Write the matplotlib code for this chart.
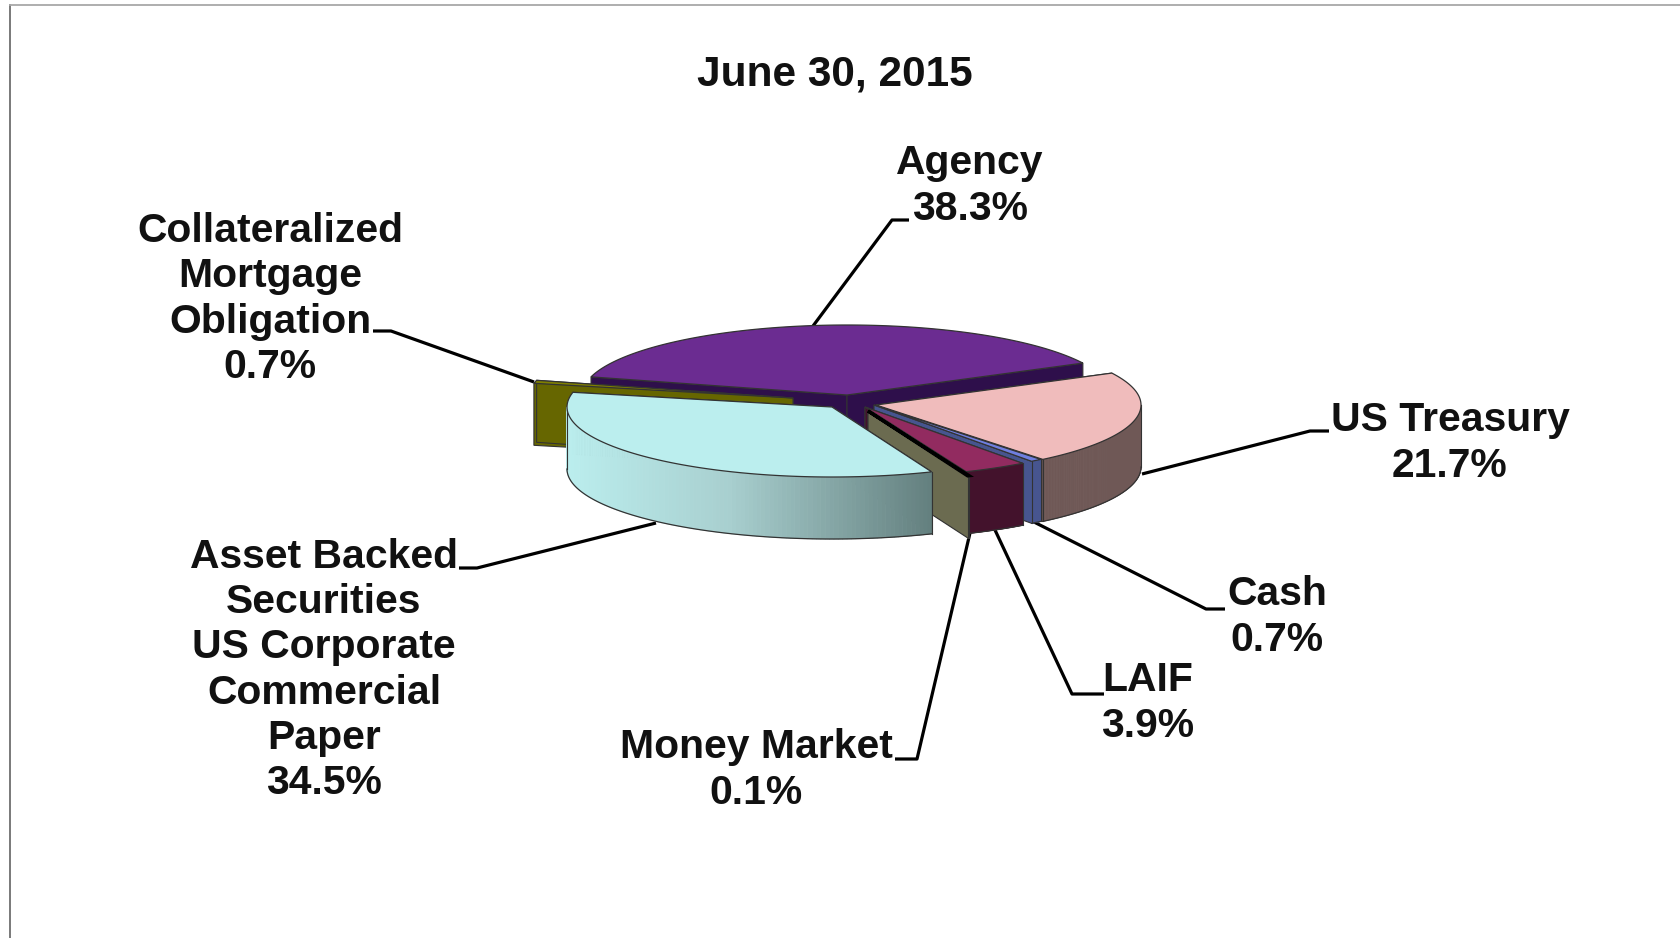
import numpy as np
import matplotlib
matplotlib.use("Agg")
import matplotlib.pyplot as plt
from matplotlib.patches import Polygon
from matplotlib.collections import PolyCollection
from matplotlib.colors import to_rgb

plt.rcParams['font.family'] = ['Liberation Sans', 'DejaVu Sans']

TITLE = "June 30, 2015"
CATEGORIES = ["Agency", "US Treasury", "Cash", "LAIF", "Money Market",
              "Asset Backed\nSecurities\nUS Corporate\nCommercial\nPaper",
              "Collateralized\nMortgage\nObligation"]
VALUES = [38.3, 21.7, 0.7, 3.9, 0.1, 34.5, 0.7]

# styling / layout
START = -75.0
RX, RY, DEPTH = 265.0, 70.0, 62.0
CENTRES = [(847, 395), (876, 405), (874, 405), (865, 407), (868, 411), (832, 407), (793, 398)]
TOP = ["#6B2C91", "#F0BCBC", "#6F7FE0", "#922B60", "#111111", "#BBEEEE", "#808000"]
WALL = ["#2E0F4B", "#6F5856", "#47558F", "#43122C", "#6B6B50", "#BBEEEE", "#666600"]
FACE = ["#2E0F4B", "#7A6260", "#47558F", "#43122C", "#6B6B50", "#6A8A8A", "#666600"]
PAINT_ORDER = [0, 1, 2, 3, 4, 6, 5]
EDGE = "#333333"
LABEL_POS = [(970, 186), (1450, 443), (1277, 617), (1148, 703), (756, 770), (324, 670), (270, 299)]
LEADERS = [[(813, 326), (892, 220), (909, 220)],
           [(1142, 474), (1310, 431), (1329, 431)],
           [(1034, 522), (1206, 609), (1225, 609)],
           [(995, 530), (1072, 694), (1104, 694)],
           [(970, 533), (917, 759), (895, 759)],
           [(656, 523), (477, 568), (459, 568)],
           [(534, 382), (391, 331), (373, 331)]]

fig = plt.figure(figsize=(16.81, 9.38), dpi=100, facecolor="white")
ax = fig.add_axes([0, 0, 1, 1])
ax.set_xlim(0, 1681)
ax.set_ylim(938, 0)
ax.axis("off")

# frame
ax.plot([10, 10], [5, 938], color="#6E6E6E", lw=1.3, zorder=1)
ax.plot([10, 1681], [5, 5], color="#A8A8A8", lw=1.3, zorder=1)

for pts in LEADERS:
    xs, ys = zip(*pts)
    ax.plot(xs, ys, color="black", lw=2.3, zorder=2, solid_capstyle="butt")


def project(c, th):
    t = np.radians(th)
    return np.column_stack([c[0] + RX * np.sin(t), c[1] - RY * np.cos(t)])


def wall_gradient(x, x0, x1):
    f = np.clip((x - x0) / (x1 - x0), 0, 1)
    a, b, c = map(np.array, (to_rgb("#BBEEEE"), to_rgb("#A8CFCF"), to_rgb("#64807F")))
    if f < 0.45:
        return a + (b - a) * f / 0.45
    return b + (c - b) * (f - 0.45) / 0.55


edges = START + np.concatenate([[0], np.cumsum(VALUES)]) * 3.6
z = 3
for i in PAINT_ORDER:
    c = CENTRES[i]
    a0, a1 = edges[i], edges[i + 1]
    th = np.linspace(a0, a1, max(int(a1 - a0) * 2, 3))
    rim = project(c, th)
    apex = np.array(c, float)
    down = np.array([0, DEPTH])

    # radial side faces
    for e in (rim[0], rim[-1]):
        ax.add_patch(Polygon([apex, e, e + down, apex + down], closed=True,
                             facecolor=FACE[i], edgecolor=EDGE, lw=0.8, zorder=z))
    # outer wall, front half only
    thw = np.linspace(max(a0, 90), min(a1, 270), 120)
    if a1 > 90 and a0 < 270:
        r = project(c, thw)
        quads = [[r[k], r[k + 1], r[k + 1] + down, r[k] + down] for k in range(len(r) - 1)]
        if i == 5:
            cols = [wall_gradient(r[k, 0], r[:, 0].min(), r[:, 0].max()) for k in range(len(r) - 1)]
        else:
            cols = [WALL[i]] * len(quads)
        ax.add_collection(PolyCollection(quads, facecolors=cols, edgecolors=cols, linewidths=0.6, zorder=z))
        ax.plot(r[:, 0], r[:, 1] + DEPTH, color=EDGE, lw=0.9, zorder=z)
        ax.plot([r[0, 0]] * 2, [r[0, 1], r[0, 1] + DEPTH], color=EDGE, lw=0.8, zorder=z)
        ax.plot([r[-1, 0]] * 2, [r[-1, 1], r[-1, 1] + DEPTH], color=EDGE, lw=0.8, zorder=z)
    # top surface
    ax.add_patch(Polygon(np.vstack([apex, rim]), closed=True, facecolor=TOP[i],
                         edgecolor="black" if i == 4 else EDGE,
                         lw=2.4 if i == 4 else 0.9, zorder=z + 0.5))
    z += 1

FS = 29.4
ax.text(835, 74, TITLE, ha="center", va="center", fontsize=30.5, fontweight="bold", color="#111111", zorder=30)
for name, val, (x, y) in zip(CATEGORIES, VALUES, LABEL_POS):
    ax.text(x, y, f"{name}\n{val:.1f}%", ha="center", va="center", fontsize=FS, fontweight="bold",
            color="#111111", linespacing=1.24, zorder=30)

fig.savefig("out.png", dpi=100, facecolor="white")
